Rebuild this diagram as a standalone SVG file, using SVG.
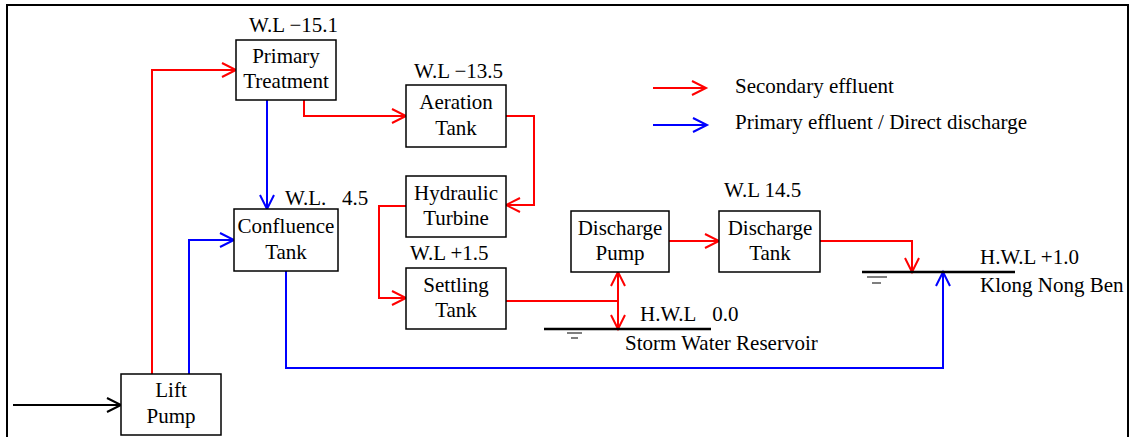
<svg xmlns="http://www.w3.org/2000/svg" width="1131" height="437" viewBox="0 0 1131 437">
<style>
.box{fill:#fff;stroke:#000;stroke-width:1.5}
.t{font-family:"Liberation Serif","Times New Roman",serif;font-size:21px;fill:#000}
.c{text-anchor:middle}
.r{fill:none;stroke:#ff0000;stroke-width:2}
.b{fill:none;stroke:#0000ff;stroke-width:2}
.k{fill:none;stroke:#000;stroke-width:2}
</style>
<defs>
<marker id="ar" viewBox="-16 -10 20 20" refX="0" refY="0" markerWidth="20" markerHeight="20" markerUnits="userSpaceOnUse" orient="auto-start-reverse"><path d="M-14,-7 L0,0 L-14,7" fill="none" stroke="#ff0000" stroke-width="2"/></marker>
<marker id="ab" viewBox="-16 -10 20 20" refX="0" refY="0" markerWidth="20" markerHeight="20" markerUnits="userSpaceOnUse" orient="auto-start-reverse"><path d="M-14,-7 L0,0 L-14,7" fill="none" stroke="#0000ff" stroke-width="2"/></marker>
<marker id="ak" viewBox="-16 -10 20 20" refX="0" refY="0" markerWidth="20" markerHeight="20" markerUnits="userSpaceOnUse" orient="auto-start-reverse"><path d="M-14,-7 L0,0 L-14,7" fill="none" stroke="#000" stroke-width="2"/></marker>
</defs>
<rect width="1131" height="437" fill="#fff"/>
<path d="M7,440 V5 H1128 V440" fill="none" stroke="#000" stroke-width="2"/>

<g id="connectors">
<path class="k" d="M13,405 H121" marker-end="url(#ak)"/>
<path class="r" d="M152,374 V70 H236" marker-end="url(#ar)"/>
<path class="b" d="M189,374 V240 H234" marker-end="url(#ab)"/>
<path class="b" d="M267,100 V209" marker-end="url(#ab)"/>
<path class="r" d="M304,100 V116 H406" marker-end="url(#ar)"/>
<path class="r" d="M506,116 H534 V205 H506" marker-end="url(#ar)"/>
<path class="r" d="M406,206 H379 V298 H406" marker-end="url(#ar)"/>
<path class="r" d="M506,301 H618"/>
<path class="r" d="M618,272 V329" marker-start="url(#ar)" marker-end="url(#ar)"/>
<path class="r" d="M669,241 H719" marker-end="url(#ar)"/>
<path class="r" d="M820,241 H912 V272" marker-end="url(#ar)"/>
<path class="b" d="M286,271 V368 H943 V272" marker-end="url(#ab)"/>
</g>

<g id="water-levels">
<path d="M544,329 H711" stroke="#000" stroke-width="2.5"/>
<path d="M567,333 H582 M571,338 H578" stroke="#000" stroke-width="1.2"/>
<path d="M862,272 H1015" stroke="#000" stroke-width="2.5"/>
<path d="M867,277 H887 M872,283 H881" stroke="#000" stroke-width="1.2"/>
<text class="t" x="640" y="321">H.W.L&#160;&#160;&#160;0.0</text>
<text class="t" x="625" y="350">Storm Water Reservoir</text>
<text class="t" x="980" y="264">H.W.L +1.0</text>
<text class="t" x="980" y="292">Klong Nong Ben</text>
</g>

<g id="legend">
<path class="r" d="M653,88 H706" marker-end="url(#ar)"/>
<path class="b" d="M653,125 H707" marker-end="url(#ab)"/>
<text class="t" x="735" y="93">Secondary effluent</text>
<text class="t" x="735" y="129">Primary effluent / Direct discharge</text>
</g>

<g id="primary-treatment">
<rect class="box" x="236" y="40" width="100" height="60"/>
<text class="t" x="249" y="32">W.L −15.1</text>
<text class="t c" x="286" y="63">Primary</text>
<text class="t c" x="286" y="88">Treatment</text>
</g>
<g id="aeration-tank">
<rect class="box" x="406" y="85" width="100" height="62"/>
<text class="t" x="414" y="78">W.L −13.5</text>
<text class="t c" x="456" y="109">Aeration</text>
<text class="t c" x="456" y="135">Tank</text>
</g>
<g id="hydraulic-turbine">
<rect class="box" x="406" y="176" width="100" height="61"/>
<text class="t c" x="456" y="200">Hydraulic</text>
<text class="t c" x="456" y="225">Turbine</text>
</g>
<g id="settling-tank">
<rect class="box" x="406" y="268" width="100" height="61"/>
<text class="t" x="410" y="260">W.L +1.5</text>
<text class="t c" x="456" y="292">Settling</text>
<text class="t c" x="456" y="317">Tank</text>
</g>
<g id="confluence-tank">
<rect class="box" x="234" y="209" width="104" height="62"/>
<text class="t" x="285" y="205">W.L.&#160;&#160;&#160;4.5</text>
<text class="t c" x="286" y="233">Confluence</text>
<text class="t c" x="286" y="259">Tank</text>
</g>
<g id="lift-pump">
<rect class="box" x="121" y="374" width="100" height="61"/>
<text class="t c" x="171" y="397">Lift</text>
<text class="t c" x="171" y="423">Pump</text>
</g>
<g id="discharge-pump">
<rect class="box" x="571" y="211" width="98" height="61"/>
<text class="t c" x="620" y="235">Discharge</text>
<text class="t c" x="620" y="260">Pump</text>
</g>
<g id="discharge-tank">
<rect class="box" x="719" y="211" width="101" height="61"/>
<text class="t" x="724" y="197">W.L 14.5</text>
<text class="t c" x="770" y="235">Discharge</text>
<text class="t c" x="770" y="260">Tank</text>
</g>
</svg>
